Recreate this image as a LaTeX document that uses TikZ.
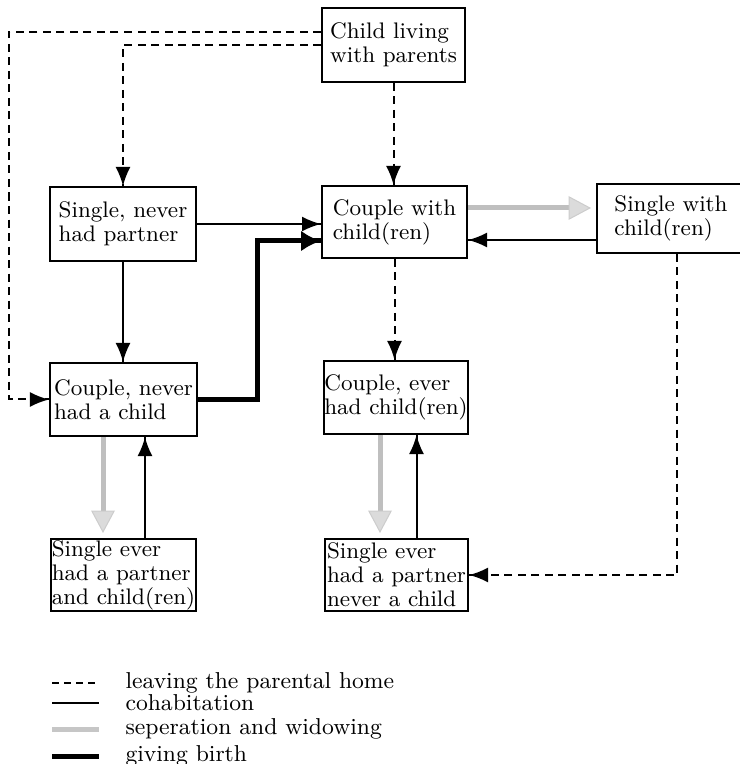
\documentclass[tikz,border=0pt]{standalone}
\usepackage{tikz}
\usetikzlibrary{arrows}
\usetikzlibrary{arrows.meta}
\usetikzlibrary{decorations.markings}
\tikzset{->/.style = {decoration={markings,
                                  mark=at position 1 with {\arrow{>}}},
                      postaction={decorate}}}
\tikzset{>={Latex[length=7.6pt,width=6pt]}}
\tikzset{state/.style = {draw, line width=0.8pt, align=left, inner sep=0.3pt,
                         font=\fontsize{9}{9.6}\selectfont}}
\tikzset{leave/.style = {line width=0.8pt, dash pattern=on 3.2pt off 2.2pt}}
\tikzset{cohab/.style = {line width=0.8pt}}
\tikzset{birth/.style = {line width=2pt, >={Latex[length=8pt,width=8.4pt]}}}
\tikzset{sep/.style = {draw=gray!50, line width=2pt, shorten >=2pt,
                       -{Triangle[length=9pt,width=9.5pt,fill=gray!28,color=gray!40,line width=0.4pt]}}}

\begin{document}
\begin{tikzpicture}[x=0.4pt, y=-0.4pt]
    \useasboundingbox (0, 0) rectangle (739, 764);
    % states
    \node [state, minimum width=57.2pt, minimum height=29.6pt] (child) at (393.5, 45) {Child living\\with parents};
    \node [state, minimum width=58.4pt, minimum height=29.6pt] (sgl) at (123, 224) {Single, never\\had partner};
    \node [state, minimum width=58pt, minimum height=28.8pt] (cwc) at (394.5, 222) {Couple with\\child(ren)};
    \node [state, minimum width=59.2pt, minimum height=27.6pt] (swc) at (671, 218.5) {Single with\\child(ren)};
    \node [state, minimum width=58.8pt, minimum height=29.2pt] (cnc) at (123.5, 399.5) {Couple, never\\had a child};
    \node [state, minimum width=57.6pt, minimum height=29.2pt] (cec) at (396, 397.5) {Couple, ever\\had child(ren)};
    \node [state, minimum width=57.2pt, minimum height=28.8pt] (sec) at (123.5, 575) {Single ever\\had a partner\\and child(ren)};
    \node [state, minimum width=57.2pt, minimum height=28.8pt] (sen) at (396.5, 575) {Single ever\\had a partner\\never a child};
    % leaving the parental home
    \draw [leave, ->] ([yshift=5.2pt]child.west) -| ([xshift=-16pt]cnc.west) -- (cnc.west);
    \draw [leave, ->] (child.west) -| (sgl.north);
    \draw [leave, ->] (child.south) -- (child.south |- cwc.north);
    \draw [leave, ->] (cwc.south) -- (cwc.south |- cec.north);
    \draw [leave, ->] ([xshift=2.4pt]swc.south) |- (sen.east);
    % cohabitation
    \draw [cohab, ->] (sgl.east) -- (sgl.east -| cwc.west);
    \draw [cohab, ->] (sgl.south) -- (sgl.south |- cnc.north);
    \draw [cohab, ->] ([yshift=-8.6pt]swc.west) -- ([yshift=-8.6pt]swc.west -| cwc.east);
    \draw [cohab, ->] ([xshift=8.6pt]sec.north) -- ([xshift=8.6pt]sec.north |- cnc.south);
    \draw [cohab, ->] ([xshift=8pt]sen.north) -- ([xshift=8pt]sen.north |- cec.south);
    % seperation and widowing
    \draw [sep] ([yshift=5.6pt]cwc.east) -- ([yshift=5.6pt]cwc.east -| swc.west);
    \draw [sep] ([xshift=-8.2pt]cnc.south) -- ([xshift=-8.2pt]cnc.south |- sec.north);
    \draw [sep] ([xshift=-6.4pt]cec.south) -- ([xshift=-6.4pt]cec.south |- sen.north);
    % giving birth
    \draw [birth, ->] (cnc.east) -| ([xshift=-25.6pt, yshift=-7.6pt]cwc.west) -- ([yshift=-7.6pt]cwc.west);
    % legend
    \node [anchor=west, inner sep=0pt, font=\fontsize{9.2}{9.6}\selectfont] (kleave) at (125, 683) {leaving the parental home};
    \node [anchor=west, inner sep=0pt, font=\fontsize{9.2}{9.6}\selectfont] (kcohab) at (125, 703) {cohabitation};
    \node [anchor=west, inner sep=0pt, font=\fontsize{9.2}{9.6}\selectfont] (ksep) at (125, 729) {seperation and widowing};
    \node [anchor=west, inner sep=0pt, font=\fontsize{9.2}{9.6}\selectfont] (kbirth) at (125, 756) {giving birth};
    \draw [line width=0.6pt, dash pattern=on 2.6pt off 2.2pt] ([xshift=-29.2pt]kleave.west) -- +(18.8pt, 0);
    \draw [cohab] ([xshift=-29.2pt]kcohab.west) -- +(18.8pt, 0);
    \draw [draw=gray!45, line width=2pt] ([xshift=-29.2pt]ksep.west) -- +(18.8pt, 0);
    \draw [birth] ([xshift=-29.2pt]kbirth.west) -- +(18.8pt, 0);
  \end{tikzpicture}
\end{document}
